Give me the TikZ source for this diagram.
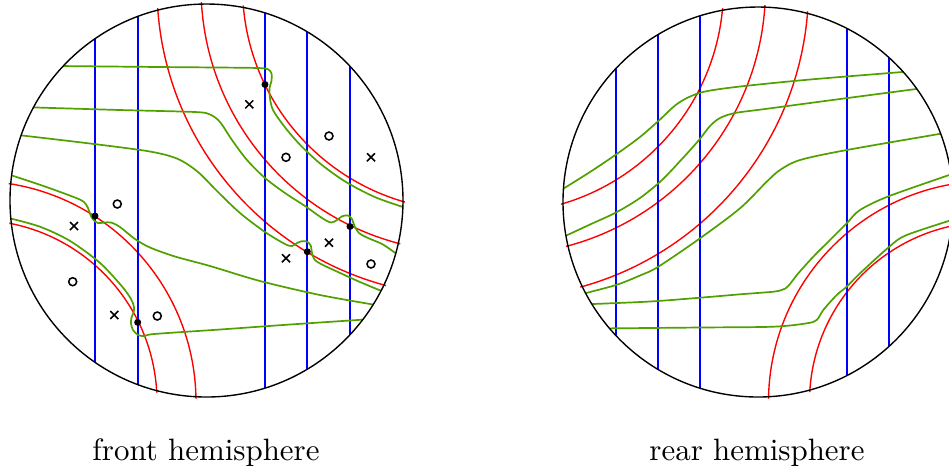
\documentclass[tikz,border=0pt]{standalone}
\usepackage{xcolor}
\usepackage{tikz}
\definecolor{hemivert}{RGB}{80,160,0}

\begin{document}
\begin{tikzpicture}[x=0.3235pt,y=-0.3235pt,
    bord/.style     = {line width=0.45pt,black},
    meridien/.style = {line width=0.55pt,blue},
    arcrouge/.style = {line width=0.45pt,red},
    brin/.style     = {line width=0.55pt,hemivert},
    marque/.style   = {line width=0.5pt,black},
    legende/.style  = {font=\normalsize,anchor=base},
  ]
  \useasboundingbox (0,0) rectangle (949,469);

  % Hémisphère avant : arcs rouges
  \begin{scope}
    \clip (206.5,200.5) circle (198.5);
    \foreach \r in {223.5,265,309}
      \draw[arcrouge] (466,-13) circle (\r);
    \foreach \r in {221,182}
      \draw[arcrouge] (-25,402) circle (\r);
  \end{scope}

  % Hémisphère avant : méridiens et brins
  \begin{scope}
    \clip (206.5,200.5) circle (196.5);
    \foreach \px in {95,138,265,307,350}
      \draw[meridien] (\px,0) -- (\px,400);
    \draw[brin] plot[smooth] coordinates {(60,66) (160,67) (240,67.7)
      (262,68.2) (268.5,69.5) (271.5,73.5) (271.5,81) (269.5,88) (269.8,97)
      (273,110) (285,127.3) (300,144.7) (320,163.4) (345,181.4) (375,197.1)
      (406,208)};
    \draw[brin] plot[smooth] coordinates {(30,107.3) (120,110) (195,112)
      (210,114.5) (220,122) (232,140) (247,160) (265,178) (285,193) (305,206)
      (322,218) (331,222.5) (337,220) (342,216.3) (348,215.5) (352,219)
      (354.5,226) (359,233) (368,238) (383,244.5) (398,255)};
    \draw[brin] plot[smooth] coordinates {(18,135) (90,143.5) (150,151.5)
      (178,159) (198,172) (218,192) (240,213) (265,232) (285,244) (292,246)
      (297,243) (302,241.2) (307,241.6) (310.7,245.5) (312,253) (314.5,259.5)
      (321,264) (338,272) (360,282) (384,292)};
    \draw[brin] plot[smooth] coordinates {(9,174.5) (45,186.5) (75,197.5)
      (84,202) (88,208) (90.5,215) (93.5,220) (98,223) (104,222.6) (111,222.5)
      (120,227) (135,239) (150,247.5) (175,256.5) (210,266) (260,281)
      (320,295) (376,305)};
    \draw[brin] plot[smooth] coordinates {(9,218.1) (40,226.7) (70,240.9)
      (100,262.9) (122,286.4) (131,299) (134,307) (133.5,312.5) (131.5,317.5)
      (131,323.5) (133,330) (138,335) (144,336) (151,334.3) (175,332.5)
      (220,329.5) (290,324.5) (365,319.5)};
  \end{scope}
  \draw[bord] (206.5,200.5) circle (196.5);

  % points d'intersection, croix et ronds
  \foreach \px/\py in {265/84.5,350/226.5,307.3/251.7,95/216,137.7/322.3}
    \fill (\px,\py) circle (3.5);
  \foreach \px/\py in {249.3/104.3,371/157.3,74/226,329/242.7,286/258.3,
                       114.3/315}
    \draw[marque] (\px-4,\py-4) -- (\px+4,\py+4)
                  (\px-4,\py+4) -- (\px+4,\py-4);
  \foreach \px/\py in {329/136,286/157.3,117.3/204,72.7/281.7,371/264,
                       157.3/316}
    \draw[marque] (\px,\py) circle (4);

  % Hémisphère arrière : arcs rouges
  \begin{scope}
    \clip (758,202) circle (197);
    \foreach \r in {225,267,310}
      \draw[arcrouge] (498.5,-12) circle (\r);
    \foreach \r in {221,180}
      \draw[arcrouge] (989.5,402) circle (\r);
  \end{scope}

  % Hémisphère arrière : méridiens et brins
  \begin{scope}
    \clip (758,202) circle (195);
    \foreach \px in {616,658.3,700,846.7,889.3}
      \draw[meridien] (\px,0) -- (\px,400);
    \draw[brin] plot[smooth] coordinates {(558,192) (590,172) (616,154.5)
      (640,137) (660,119.5) (675,105.5) (688,97.5) (705,91.5) (740,86.5)
      (810,79.5) (905,71.8)};
    \draw[brin] plot[smooth] coordinates {(561,238) (590,224.5) (616,212.5)
      (640,198) (662,180) (682,159) (699,140) (710,126) (720,118)
      (735,113) (765,109) (840,99) (920,88.5)};
    \draw[brin] plot[smooth] coordinates {(582,294) (616,285) (640,275.5)
      (658.3,266.7) (700,238.3) (740,208.3) (766.7,181.7) (780,170) (800,160)
      (846.7,150) (942,133.5)};
    \draw[brin] plot[smooth] coordinates {(588,304.2) (650,301.5) (700,297.7)
      (740,294.3) (773.3,291.7) (783,289.5) (788.3,286) (798.3,273.3)
      (813.3,256.7) (830,240) (846.7,223.3) (860,210) (889.3,196) (958,172)};
    \draw[brin] plot[smooth] coordinates {(605,328.4) (700,327.5) (773.3,326.7)
      (806.7,323.3) (816.7,320) (823.3,310) (836.7,295) (846.7,286.7)
      (860,273.3) (889.3,246.7) (906.7,235) (958,218)};
  \end{scope}
  \draw[bord] (758,202) circle (195);

  % Légendes
  \node[legende] (avant)   at (206,460) {front hemisphere};
  \node[legende] (arriere) at (757,460) {rear hemisphere};

\end{tikzpicture}
\end{document}
